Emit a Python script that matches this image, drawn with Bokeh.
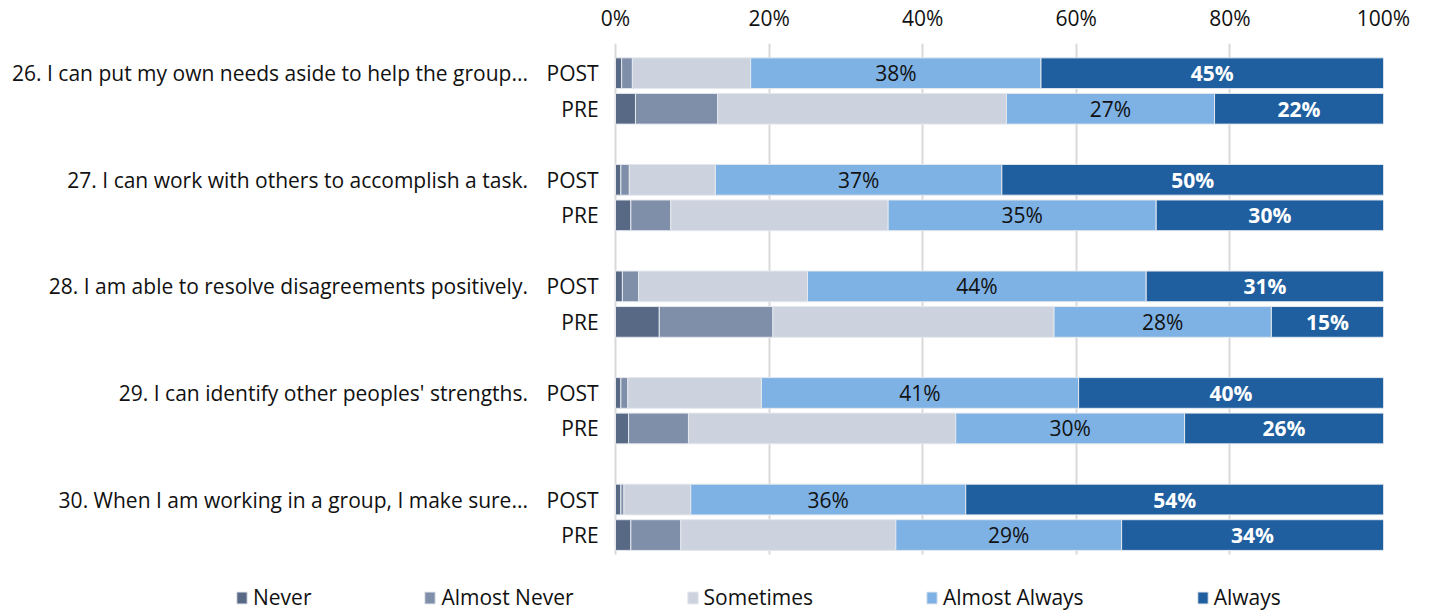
from bokeh.plotting import figure
from bokeh.models import (Range1d, FixedTicker, Legend, LegendItem, Grid,
                          ColumnDataSource, PrintfTickFormatter)
from bokeh.core.properties import value
from bokeh.embed import file_html
from bokeh.resources import INLINE

questions = [
    "26. I can put my own needs aside to help the group...",
    "27. I can work with others to accomplish a task.",
    "28. I am able to resolve disagreements positively.",
    "29. I can identify other peoples' strengths.",
    "30. When I am working in a group, I make sure...",
]
phases = ["POST", "PRE"]
responses = ["Never", "Almost Never", "Sometimes", "Almost Always", "Always"]

# values per row: Q26 POST, Q26 PRE, Q27 POST, Q27 PRE, ...
never = [0.8, 2.6, 0.7, 2.0, 0.9, 5.7, 0.7, 1.7, 0.7, 2.0]
almost_never = [1.4, 10.7, 1.1, 5.2, 2.1, 14.8, 0.9, 7.8, 0.4, 6.5]
sometimes = [15.4, 37.6, 11.2, 28.3, 22.0, 36.6, 17.4, 34.8, 8.7, 28.0]
almost_always = [37.8, 27.1, 37.3, 34.9, 44.1, 28.3, 41.3, 29.8, 35.8, 29.4]
always = [44.6, 22.0, 49.7, 29.6, 30.9, 14.6, 39.7, 25.9, 54.4, 34.1]

x_ticks = [0, 20, 40, 60, 80, 100]
colors = ["#586985", "#7f8ea9", "#ccd2de", "#7eb1e4", "#1f5f9f"]

FONT = "Open Sans"
FS = "21px"
TXT = "#111111"

# layout constants (data units)
X_LEFT = -80.08          # left edge of canvas in % units
Y_TOP, Y_PLOT_BOTTOM, Y_BOTTOM = -0.837, 13.54, 15.18
PHASE_X = -2.2           # right edge of POST/PRE labels
QUESTION_X = -11.4       # right edge of question labels

# slot positions: each question uses 3 slots (POST, PRE, gap)
ypos = []
labels = []
for g in range(len(questions)):
    for k, ph in enumerate(phases):
        ypos.append(g * 3 + k)
        labels.append(ph)
post_pos = [g * 3 for g in range(len(questions))]

series = [never, almost_never, sometimes, almost_always, always]
data = {"y": ypos}
for name, vals in zip(responses, series):
    data[name] = vals
source = ColumnDataSource(data)

p = figure(width=1429, height=612, output_backend="svg", toolbar_location=None,
           x_range=Range1d(X_LEFT, 100), y_range=Range1d(Y_BOTTOM, Y_TOP),
           x_axis_location="above", y_axis_location=None,
           min_border_left=0, min_border_right=46,
           min_border_top=38, min_border_bottom=0)
p.outline_line_color = None
p.background_fill_color = "white"
p.border_fill_color = "white"

# vertical gridlines limited to the plot area
p.xgrid.visible = False
grid = Grid(dimension=0, ticker=FixedTicker(ticks=x_ticks),
            grid_line_color="#d9d9d9", grid_line_width=2)
if "cross_bounds" in Grid.properties():
    grid.cross_bounds = (Y_TOP, Y_PLOT_BOTTOM)
    p.add_layout(grid, "center")
else:
    p.segment(x0=x_ticks, x1=x_ticks, y0=[Y_TOP] * len(x_ticks),
              y1=[Y_PLOT_BOTTOM] * len(x_ticks), line_color="#d9d9d9", line_width=2)
p.ygrid.grid_line_color = None

renderers = p.hbar_stack(responses, y="y", height=0.865, color=colors,
                         source=source, line_color="#e4e8ee", line_width=1)

# data labels for Almost Always and Always
aa_x, al_x, aa_t, al_t = [], [], [], []
for i in range(len(ypos)):
    base = never[i] + almost_never[i] + sometimes[i]
    aa_x.append(base + almost_always[i] / 2)
    al_x.append(base + almost_always[i] + always[i] / 2)
    aa_t.append(f"{round(almost_always[i])}%")
    al_t.append(f"{round(always[i])}%")
p.text(x=aa_x, y=ypos, text=aa_t, text_align="center", text_baseline="middle",
       text_font=value(FONT), text_font_size=FS, text_color=TXT)
p.text(x=al_x, y=ypos, text=al_t, text_align="center", text_baseline="middle",
       text_font=value(FONT), text_font_size=FS, text_color="white",
       text_font_style="bold")

# category labels
p.text(x=[PHASE_X] * len(ypos), y=ypos, text=labels, text_align="right",
       text_baseline="middle", text_font=value(FONT), text_font_size=FS,
       text_color=TXT)
p.text(x=[QUESTION_X] * len(post_pos), y=post_pos, text=questions,
       text_align="right", text_baseline="middle", text_font=value(FONT),
       text_font_size=FS, text_color=TXT)

# x axis on top
xa = p.xaxis[0]
xa.ticker = FixedTicker(ticks=x_ticks)
xa.formatter = PrintfTickFormatter(format="%d%%")
xa.axis_line_color = None
xa.major_tick_line_color = None
xa.minor_tick_line_color = None
xa.major_label_text_font = FONT
xa.major_label_text_font_size = FS
xa.major_label_text_color = TXT
xa.major_label_standoff = 6

legend = Legend(items=[LegendItem(label=n, renderers=[r]) for n, r in zip(responses, renderers)],
                orientation="horizontal", location=(235, 1),
                spacing=112, glyph_width=13, glyph_height=15, label_standoff=5,
                label_text_font=FONT, label_text_font_size=FS,
                label_text_color=TXT, border_line_alpha=0,
                background_fill_alpha=0, padding=0, margin=0)
p.add_layout(legend)

open("out.html", "w").write(file_html(p, INLINE))
